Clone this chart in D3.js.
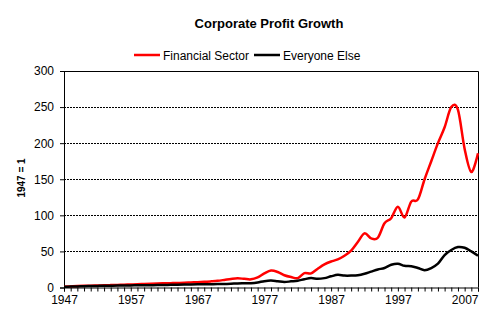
<!DOCTYPE html>
<html>
<head>
<meta charset="utf-8">
<script src="https://cdn.jsdelivr.net/npm/d3@7"></script>
<style>
  html, body { margin: 0; padding: 0; background: #fff; }
  svg { display: block; font-family: Arial, "Liberation Sans", sans-serif; }
</style>
</head>
<body>
<svg id="chart" width="489" height="332"></svg>
<script>
const years = d3.range(1947, 2010);
const financialSector = [
  1, 1.5, 2, 2.3, 2.5, 2.8, 3, 3.3, 3.6, 3.9,
  4.2, 4.5, 4.9, 5.2, 5.5, 5.8, 6, 6.3, 6.6, 7,
  7.3, 7.8, 8.5, 9.3, 10.5, 11.8, 12.7, 12, 11.3, 14,
  19.5, 23.5, 21.5, 17, 14.5, 13, 20, 19.5, 26, 32,
  36, 39, 44, 51, 63, 75, 68, 69, 89, 96,
  112, 97, 119, 122, 150, 175, 200, 222, 250, 246,
  192, 160, 186
];
const everyoneElse = [
  1, 1.3, 1.5, 1.8, 2, 2.2, 2.4, 2.5, 2.7, 2.8,
  2.9, 3, 3.1, 3.2, 3.3, 3.5, 3.7, 3.9, 4.1, 4.3,
  4.4, 4.5, 4.6, 4.7, 4.9, 5.2, 5.6, 5.8, 6, 7,
  8.8, 9.6, 8.6, 7.6, 8.5, 9.5, 11.5, 13, 12, 13,
  15.5, 17.5, 16.5, 16.5, 17, 19, 22, 25, 27, 31.5,
  33, 30, 29.5, 27, 24, 27, 33, 45, 52, 56,
  55, 50, 44
];
const yTicks = [0, 50, 100, 150, 200, 250, 300];
const xLabelYears = [1947, 1957, 1967, 1977, 1987, 1997, 2007];
const seriesNames = ["Financial Sector", "Everyone Else"];
const seriesColors = ["#ff0000", "#000000"];

(function () {
const svg = d3.select("#chart");
const pL = 64, pR = 478, pT = 71, pB = 287.5;

const x = d3.scaleLinear().domain([1947, 2009]).range([pL, pR]);
const y = d3.scaleLinear().domain([0, 300]).range([pB, pT]);

// Title
svg.append("text")
  .attr("x", 269).attr("y", 28)
  .attr("text-anchor", "middle")
  .attr("font-size", 13).attr("font-weight", "bold")
  .text("Corporate Profit Growth");

// Legend
const legend = [
  { name: seriesNames[0], color: seriesColors[0], x1: 134, x2: 160, tx: 163 },
  { name: seriesNames[1], color: seriesColors[1], x1: 254, x2: 280, tx: 283 }
];
legend.forEach(l => {
  svg.append("line").attr("x1", l.x1).attr("x2", l.x2)
    .attr("y1", 55).attr("y2", 55)
    .attr("stroke", l.color).attr("stroke-width", 2.5);
  svg.append("text").attr("x", l.tx).attr("y", 59.5)
    .attr("font-size", 12).text(l.name);
});

// Gridlines
svg.append("g").selectAll("line")
  .data(yTicks.filter(d => d > 0 && d < 300))
  .join("line")
  .attr("x1", pL).attr("x2", pR)
  .attr("y1", d => Math.round(y(d)) + 0.5).attr("y2", d => Math.round(y(d)) + 0.5)
  .attr("stroke", "#000").attr("stroke-width", 1)
  .attr("stroke-dasharray", "2,1");

// Plot border (top and right)
svg.append("path")
  .attr("d", `M${pL},${Math.round(pT)+0.5}H${pR+0.5}V${pB}`)
  .attr("fill", "none").attr("stroke", "#000").attr("stroke-width", 1);

// Y axis
const yAxis = d3.axisLeft(y).tickValues(yTicks).tickSize(4).tickPadding(6);
const gy = svg.append("g").attr("transform", `translate(${pL},0)`).call(yAxis);
gy.selectAll("text").attr("font-size", 12).attr("fill", "#000").attr("font-family", "Arial, 'Liberation Sans', sans-serif");
gy.selectAll("line, path").attr("stroke", "#000");

// X axis (yearly ticks, labels every 10 years)
const xAxis = d3.axisBottom(x).tickValues(years).tickSize(4).tickPadding(4)
  .tickFormat(d => xLabelYears.includes(d) ? String(d) : "");
const gx = svg.append("g").attr("transform", `translate(0,${pB})`).call(xAxis);
gx.selectAll("text").attr("font-size", 12).attr("fill", "#000").attr("font-family", "Arial, 'Liberation Sans', sans-serif");
gx.selectAll("line, path").attr("stroke", "#000");

// Y axis title
svg.append("text")
  .attr("transform", "translate(25,178) rotate(-90)")
  .attr("text-anchor", "middle")
  .attr("font-size", 10).attr("font-weight", "bold")
  .text("1947 = 1");

// Lines
const line = d3.line()
  .x((d, i) => x(years[i]))
  .y(d => y(d))
  .curve(d3.curveCatmullRom.alpha(0));

[financialSector, everyoneElse].forEach((s, k) => {
  svg.append("path")
    .datum(s)
    .attr("d", line)
    .attr("fill", "none")
    .attr("stroke", seriesColors[k])
    .attr("stroke-width", 2.5)
    .attr("stroke-linejoin", "round");
});
})();
</script>
</body>
</html>
